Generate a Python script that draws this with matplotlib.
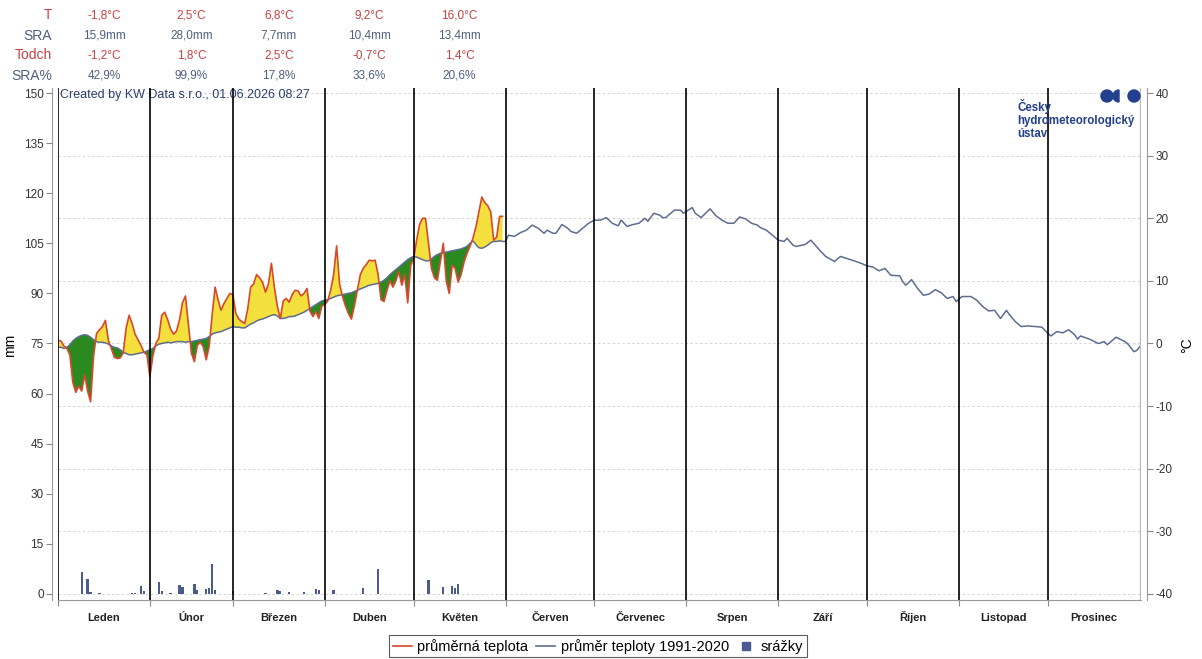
import numpy as np
import matplotlib.pyplot as plt
from matplotlib.lines import Line2D
from matplotlib.patches import Circle, Wedge
from matplotlib.transforms import blended_transform_factory

plt.rcParams['font.family'] = ['Liberation Sans', 'DejaVu Sans']
plt.rcParams['axes.unicode_minus'] = False

# --- data ---
months = ["Leden", "Únor", "Březen", "Duben", "Květen", "Červen",
          "Červenec", "Srpen", "Září", "Říjen", "Listopad", "Prosinec"]
month_start = [0, 31, 59, 90, 120, 151, 181, 212, 243, 273, 304, 334, 365]

# daily mean temperature 1.1. - 31.5. (°C)
temp_mean = [
    0.5, 0.4, -0.4, -0.8, -1.8, -6.2, -7.8, -6.8, -7.6, -5.0, -7.6, -9.3, -2.0, 1.6, 2.2, 2.7,
    3.7, 0.5, -0.8, -2.2, -2.4, -2.3, -1.5, 2.5, 4.5, 3.2, 1.5, 0.6, -0.3, -1.4, -1.8,
    -5.3, -2.0, 0.0, 0.8, 4.5, 5.0, 3.8, 2.3, 1.5, 2.0, 3.8, 6.5, 7.6, 3.0, -1.5, -2.9,
    -0.3, 0.2, -0.5, -2.6, -0.5, 4.5, 9.0, 7.0, 5.3, 6.4, 7.2, 8.0,
    7.8, 4.8, 3.9, 3.5, 3.2, 5.5, 9.0, 9.5, 11.0, 10.5, 9.8, 8.2, 9.5, 12.8, 9.0, 6.0,
    4.0, 6.8, 7.2, 6.6, 7.8, 8.5, 8.4, 7.6, 8.0, 8.8, 5.2, 4.3, 5.1, 4.0, 6.0,
    6.2, 6.8, 8.5, 11.0, 15.6, 9.5, 7.5, 6.0, 4.8, 3.9, 6.0, 8.5, 11.0, 12.0, 12.6,
    13.3, 13.2, 13.3, 11.0, 7.0, 6.7, 8.5, 10.0, 9.0, 10.0, 11.5, 9.3, 11.0, 6.5, 12.5,
    13.5, 16.5, 19.0, 20.0, 20.0, 16.0, 12.0, 10.5, 10.1, 13.0, 16.0, 10.0, 8.0, 12.5, 12.0,
    9.8, 11.0, 13.0, 14.4, 15.5, 16.8, 18.6, 21.0, 23.4, 22.5, 22.0, 21.0, 16.5, 17.0, 20.3, 20.3,
]

# normal 1991-2020, daily for 1.1. - 31.5.
temp_norm = [
    -0.6, -0.6, -0.8, -0.6, -0.2, 0.4, 0.8, 1.1, 1.3, 1.4, 1.3, 1.0, 0.6, 0.3, 0.2, 0.2,
    0.1, -0.1, -0.4, -0.6, -0.7, -1.0, -1.4, -1.6, -1.8, -1.8, -1.7, -1.6, -1.5, -1.4, -1.2,
    -1.0, -0.8, -0.4, -0.1, 0.0, 0.1, 0.2, 0.1, 0.2, 0.3, 0.3, 0.3, 0.2, 0.3, 0.3, 0.4,
    0.5, 0.6, 0.7, 0.8, 1.1, 1.5, 1.7, 1.8, 1.9, 2.1, 2.3, 2.5,
    2.7, 2.6, 2.6, 2.5, 2.5, 2.8, 3.1, 3.3, 3.6, 3.8, 3.9, 4.1, 4.3, 4.5, 4.6, 4.4,
    4.0, 4.0, 4.1, 4.3, 4.3, 4.4, 4.6, 4.8, 5.0, 5.3, 5.6, 5.9, 6.2, 6.5, 6.8,
    6.9, 7.0, 7.2, 7.4, 7.6, 7.7, 7.8, 7.9, 8.0, 8.1, 8.3, 8.5, 8.7, 8.9, 9.1,
    9.3, 9.4, 9.5, 9.6, 9.8, 10.1, 10.5, 11.0, 11.4, 11.8, 12.2, 12.6, 13.0, 13.4, 13.7,
    13.9, 13.8, 13.6, 13.4, 13.2, 13.2, 13.5, 13.9, 14.2, 14.4, 14.5, 14.6, 14.7, 14.8, 14.9,
    15.0, 15.1, 15.3, 15.5, 16.0, 16.4, 15.8, 15.3, 15.2, 15.4, 15.7, 16.1, 16.3, 16.3, 16.4, 16.3,
]

# normal for the rest of the year (read points)
norm_rest_day = [
    151, 152, 154, 156, 158, 160, 162, 164, 165, 167, 168, 170, 172, 173, 175, 177, 179, 181,
    183, 185, 187, 189, 190, 192, 194, 196, 198, 199, 201, 203, 204, 205, 208, 210, 211, 214,
    215, 217, 220, 222, 224, 226, 228, 230, 232, 234, 236, 237, 239, 241, 243, 245, 246, 248,
    249, 252, 254, 257, 259, 262, 264, 266, 268, 271, 273, 275, 277, 279, 281, 284, 285, 286,
    288, 290, 292, 294, 296, 298, 300, 302, 303, 305, 308, 310, 312, 314, 316, 318, 320, 321,
    323, 325, 327, 330, 332, 334, 335, 337, 339, 341, 343, 344, 345, 348, 351, 353, 354, 357,
    360, 361, 363, 364, 365,
]
norm_rest_temp = [
    16.3, 17.3, 17.1, 17.7, 18.1, 18.9, 18.4, 17.6, 18.1, 17.6, 17.6, 19.0, 18.4, 17.9, 17.6,
    18.4, 19.2, 19.7, 19.7, 20.1, 19.2, 18.8, 19.7, 18.7, 19.0, 19.2, 20.0, 19.5, 20.8, 20.5,
    20.1, 20.1, 21.3, 21.3, 20.8, 21.7, 20.8, 20.1, 21.5, 20.4, 19.7, 19.2, 19.2, 20.2, 19.9,
    19.2, 18.9, 18.5, 18.1, 17.3, 16.5, 16.3, 16.8, 15.7, 15.5, 15.8, 16.5, 14.9, 13.9, 13.1,
    13.9, 13.6, 13.3, 12.8, 12.4, 12.2, 11.6, 12.0, 10.9, 10.8, 9.9, 9.3, 10.2, 8.8, 7.7,
    7.9, 8.6, 8.1, 7.2, 7.5, 6.7, 7.5, 7.5, 6.9, 5.9, 5.2, 5.3, 4.0, 5.3, 4.6,
    3.5, 2.7, 2.8, 2.7, 2.6, 1.6, 1.2, 1.9, 1.7, 2.2, 1.4, 0.7, 1.2, 0.7, 0.0,
    0.3, -0.2, 1.0, 0.3, -0.1, -1.3, -1.1, -0.5,
]

# daily precipitation (mm)
rain_day = [8, 10, 11, 14, 25, 26, 28, 29,
            34, 35, 38, 41, 42, 46, 47, 50, 51, 52, 53,
            59, 70, 74, 75, 78, 83, 87, 88,
            93, 103, 108,
            125, 130, 133, 134, 135]
rain_mm = [6.5, 4.5, 0.5, 0.2, 0.4, 0.3, 2.5, 0.8,
           3.5, 0.8, 0.3, 2.8, 2.0, 2.9, 1.3, 1.6, 1.8, 9.0, 1.2,
           1.0, 0.4, 1.2, 0.9, 0.7, 0.6, 1.6, 1.2,
           1.1, 1.9, 7.4,
           4.1, 2.1, 2.3, 1.8, 3.1]

row_T = ["-1,8°C", "2,5°C", "6,8°C", "9,2°C", "16,0°C"]
row_SRA = ["15,9mm", "28,0mm", "7,7mm", "10,4mm", "13,4mm"]
row_Todch = ["-1,2°C", "1,8°C", "2,5°C", "-0,7°C", "1,4°C"]
row_SRA_pct = ["42,9%", "99,9%", "17,8%", "33,6%", "20,6%"]

# --- styles ---
c_red = '#d9482b'
c_norm = '#5d6d8f'
c_bar = '#4a5b8f'
c_yellow = '#f4e03c'
c_green = '#2b8a1f'
c_txt_red = '#c84040'
c_txt_blue = '#4f5f80'

W, H = 1202, 659
fig = plt.figure(figsize=(W / 100, H / 100), dpi=100)
ax = fig.add_axes([58 / W, 1 - 600 / H, (1141 - 58) / W, (600 - 88) / H])
ax.set_xlim(0, 365.4)
ax.set_ylim(-1.8, 151.5)
ax2 = ax.twinx()
ax2.set_ylim((-1.8 - 75) / 1.875, (151.5 - 75) / 1.875)

# precipitation bars
ax.bar(rain_day, rain_mm, width=0.8, color=c_bar, zorder=3)

# grid (follows °C axis)
for t in range(-40, 41, 10):
    ax2.axhline(t, color='#d4d4d4', lw=0.7, ls=(0, (2.5, 2.5)), zorder=0.5)

# temperature
days = np.arange(len(temp_mean))
a = np.array(temp_mean)
n = np.array(temp_norm)
ax2.fill_between(days, a, n, where=a >= n, interpolate=True, color=c_yellow, lw=0, zorder=2)
ax2.fill_between(days, a, n, where=a <= n, interpolate=True, color=c_green, lw=0, zorder=2)
ax2.plot(np.concatenate([days, norm_rest_day]), np.concatenate([n, norm_rest_temp]),
         color=c_norm, lw=1.1, zorder=3)
ax2.plot(days, a, color=c_red, lw=1.2, zorder=4)

# month separators
for m in month_start[:-1]:
    ax2.axvline(m, color='black', lw=1.2, zorder=6)
ax2.axvline(365.2, color='#bbbbbb', lw=1.0, zorder=6)

# axes styling
ax.set_yticks(range(0, 151, 15))
ax.tick_params(axis='y', direction='out', length=4, color='#888888', labelsize=8.5,
               labelcolor='#333333', pad=2)
ax2.set_yticks(range(-40, 41, 10))
ax2.tick_params(axis='y', direction='out', length=4, color='#888888', labelsize=8.5,
                labelcolor='#333333', pad=2)
for s in ['top', 'right']:
    ax.spines[s].set_visible(False)
for s in ['top', 'left', 'bottom']:
    ax2.spines[s].set_visible(False)
ax.spines['left'].set_position(('outward', 4.3))
ax2.spines['right'].set_position(('outward', 4.3))
ax.spines['left'].set_color('#999999')
ax2.spines['right'].set_color('#999999')
ax.spines['bottom'].set_color('#999999')

centers = [(month_start[i] + month_start[i + 1]) / 2 for i in range(12)]
ax.set_xticks(month_start[:-1])
ax.set_xticklabels([])
ax.set_xticks(centers, minor=True)
ax.set_xticklabels(months, minor=True)
ax.tick_params(axis='x', which='major', direction='out', length=4, color='#888888')
ax.tick_params(axis='x', which='minor', length=0, pad=15, labelsize=8)
for lab in ax.get_xticklabels(minor=True):
    lab.set_fontweight('bold')
    lab.set_color('#222222')
    lab.set_verticalalignment('baseline')

fig.text(10 / W, 1 - 345 / H, "mm", rotation=90, ha='center', va='center', fontsize=10)
fig.text(1187 / W, 1 - 345 / H, "°C", rotation=90, ha='center', va='center', fontsize=10)

# summary table above the chart
tr = blended_transform_factory(ax.transData, fig.transFigure)
rows = [("T", row_T, c_txt_red, 15), ("SRA", row_SRA, c_txt_blue, 36),
        ("Todch", row_Todch, c_txt_red, 55), ("SRA%", row_SRA_pct, c_txt_blue, 76)]
for name, vals, col, ypx in rows:
    fig.text(52 / W, 1 - ypx / H, name, ha='right', va='center', fontsize=10, color=col)
    for i, v in enumerate(vals):
        ax.text(centers[i], 1 - ypx / H, v, transform=tr, ha='center', va='center',
                fontsize=8.5, color=col)

ax2.text(2 / 1083, 1 - 1 / 512, "Created by KW Data s.r.o., 01.06.2026 08:27",
         transform=ax2.transAxes, ha='left', va='top', fontsize=9, color='#2b3d6f', zorder=5)

# logo
fig.text(1017 / W, 1 - 99 / H, "Český\nhydrometeorologický\nústav", ha='left', va='top',
         fontsize=8.3, fontweight='bold', color='#23408e', linespacing=1.12)
tin = fig.dpi_scale_trans
fig.add_artist(Circle((1107 / 100, (H - 96) / 100), 0.06, transform=tin, color='#23408e'))
fig.add_artist(Wedge((1119 / 100, (H - 96) / 100), 0.06, 90, 270, transform=tin, color='#23408e'))
fig.add_artist(Circle((1134 / 100, (H - 96) / 100), 0.06, transform=tin, color='#23408e'))

# legend
handles = [Line2D([], [], color=c_red, lw=1.2),
           Line2D([], [], color=c_norm, lw=1.2),
           Line2D([], [], marker='s', ls='', color=c_bar, markersize=6)]
leg = fig.legend(handles, ["průměrná teplota", "průměr teploty 1991-2020", "srážky"],
                 loc='upper center', bbox_to_anchor=(598 / W, 1 - 635 / H), ncol=3,
                 frameon=True, fancybox=False, edgecolor='#333333', fontsize=10.5,
                 handlelength=1.3, handletextpad=0.4, columnspacing=0.5, borderpad=0.25,
                 borderaxespad=0)
leg.get_frame().set_linewidth(0.8)

fig.savefig('out.png', dpi=100)
